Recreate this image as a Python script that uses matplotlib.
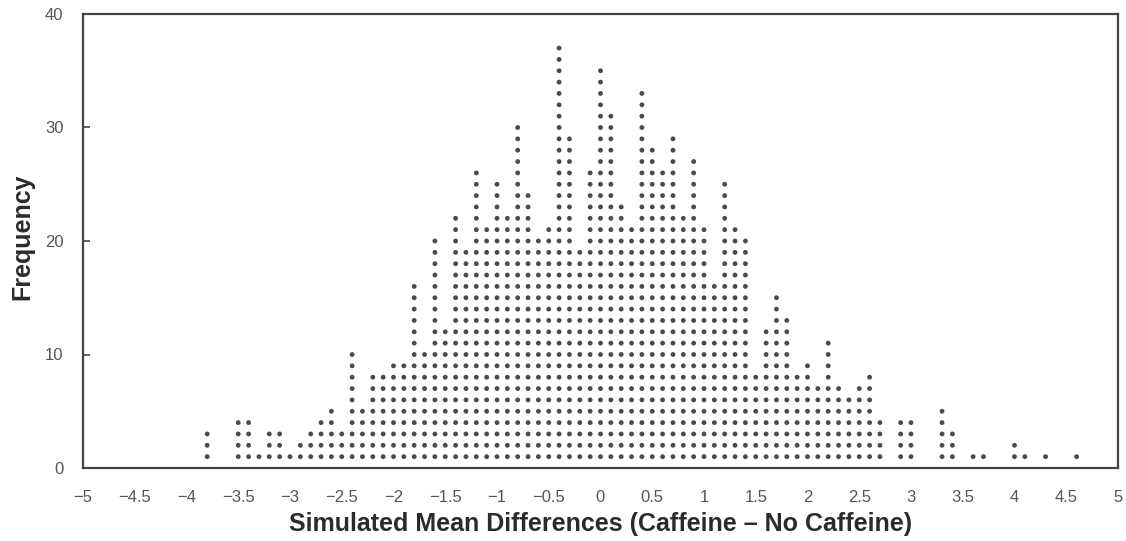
import matplotlib
matplotlib.use("Agg")
import matplotlib.pyplot as plt

plt.rcParams['font.family'] = ['Liberation Sans', 'DejaVu Sans']

# Simulated mean differences (bin centres, step 0.1) and their frequencies
diffs = [-3.8, -3.7, -3.6, -3.5, -3.4, -3.3, -3.2, -3.1, -3.0, -2.9,
         -2.8, -2.7, -2.6, -2.5, -2.4, -2.3, -2.2, -2.1, -2.0, -1.9,
         -1.8, -1.7, -1.6, -1.5, -1.4, -1.3, -1.2, -1.1, -1.0, -0.9,
         -0.8, -0.7, -0.6, -0.5, -0.4, -0.3, -0.2, -0.1, 0.0, 0.1,
         0.2, 0.3, 0.4, 0.5, 0.6, 0.7, 0.8, 0.9, 1.0, 1.1,
         1.2, 1.3, 1.4, 1.5, 1.6, 1.7, 1.8, 1.9, 2.0, 2.1,
         2.2, 2.3, 2.4, 2.5, 2.6, 2.7, 2.8, 2.9, 3.0, 3.1,
         3.2, 3.3, 3.4, 3.5, 3.6, 3.7, 3.8, 3.9, 4.0, 4.1,
         4.2, 4.3, 4.4, 4.5, 4.6]
counts = [3, 0, 0, 4, 4, 1, 3, 3, 1, 2,
          3, 4, 5, 3, 10, 5, 8, 8, 9, 9,
          16, 10, 20, 12, 22, 19, 26, 21, 25, 22,
          30, 24, 20, 21, 37, 29, 19, 26, 35, 31,
          23, 21, 33, 28, 26, 29, 22, 27, 21, 16,
          25, 21, 20, 8, 12, 15, 13, 8, 9, 7,
          11, 7, 6, 7, 8, 4, 0, 4, 4, 0,
          0, 5, 3, 0, 1, 1, 0, 0, 2, 1,
          0, 1, 0, 0, 1]

x_ticks = [-5, -4.5, -4, -3.5, -3, -2.5, -2, -1.5, -1, -0.5, 0,
           0.5, 1, 1.5, 2, 2.5, 3, 3.5, 4, 4.5, 5]
x_tick_labels = ['\u22125', '\u22124.5', '\u22124', '\u22123.5', '\u22123', '\u22122.5',
                 '\u22122', '\u22121.5', '\u22121', '\u22120.5', '0', '0.5', '1', '1.5',
                 '2', '2.5', '3', '3.5', '4', '4.5', '5']
y_ticks = [0, 10, 20, 30, 40]

fig = plt.figure(figsize=(11.26, 5.41), dpi=100)
ax = fig.add_axes([83/1126, 1 - 468/541, (1118 - 83)/1126, (468 - 14)/541])

xs, ys = [], []
for d, c in zip(diffs, counts):
    for k in range(1, c + 1):
        xs.append(d)
        ys.append(k)
ax.scatter(xs, ys, s=12, color='#4a4a4a', edgecolors='none', zorder=3)

ax.set_xlim(-5, 5)
ax.set_ylim(0, 40)
ax.set_xticks(x_ticks)
ax.set_xticklabels(x_tick_labels)
ax.set_yticks(y_ticks)
ax.tick_params(axis='x', length=0, pad=16, labelsize=12, labelcolor='#555555')
ax.tick_params(axis='y', direction='in', length=5, width=1.2, color='#444444',
               pad=14, labelsize=12, labelcolor='#555555')
for sp in ax.spines.values():
    sp.set_color('#444444')
    sp.set_linewidth(1.6)

fig.text(601/1126, 1 - 524/541, 'Simulated Mean Differences (Caffeine \u2013 No Caffeine)',
         ha='center', va='center', fontsize=18, fontweight='bold', color='#2b2b2b')
fig.text(22/1126, 1 - 237/541, 'Frequency', rotation=90, ha='center', va='center',
         fontsize=18, fontweight='bold', color='#2b2b2b')

fig.savefig('out.png', dpi=100, facecolor='white')
